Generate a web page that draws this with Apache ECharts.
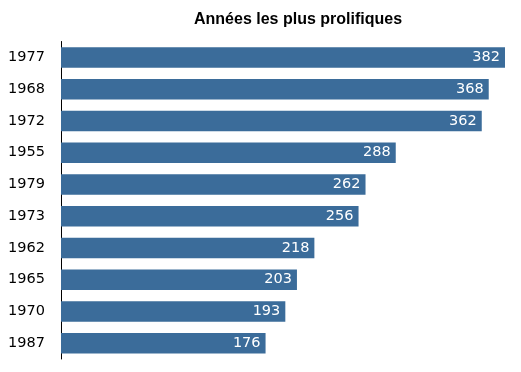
<!DOCTYPE html>
<html><head><meta charset="utf-8">
<script src="https://cdn.jsdelivr.net/npm/echarts@6/dist/echarts.min.js"></script>
<style>html,body{margin:0;padding:0;background:#fff}#c{width:521px;height:372px}</style>
</head><body><div id="c"></div>
<script>
const years = ['1977','1968','1972','1955','1979','1973','1962','1965','1970','1987'];
const counts = [382,368,362,288,262,256,218,203,193,176];
const titleText = 'Années les plus prolifiques';

const chart = echarts.init(document.getElementById('c'), null, {renderer:'canvas'});
chart.setOption({
  animation:false,
  title:{text:titleText,left:293,top:7,textAlign:'center',
    textStyle:{fontFamily:'Liberation Sans',fontWeight:'bold',fontSize:16,color:'#000'}},
  grid:{left:61,right:16,top:41.5,bottom:13,containLabel:false},
  xAxis:{type:'value',min:0,max:382,show:false},
  yAxis:{type:'category',data:years,inverse:true,
    axisLine:{show:true,lineStyle:{color:'#000',width:1}},
    axisTick:{show:false},
    axisLabel:{margin:16,color:'#000',fontFamily:'DejaVu Sans',fontSize:14.5}},
  series:[{type:'bar',data:counts,barWidth:20.5,
    itemStyle:{color:'#3b6c9a'},
    label:{show:true,position:'insideRight',distance:5,color:'#fff',
      fontFamily:'DejaVu Sans',fontSize:14.5}}]
});
</script></body></html>
